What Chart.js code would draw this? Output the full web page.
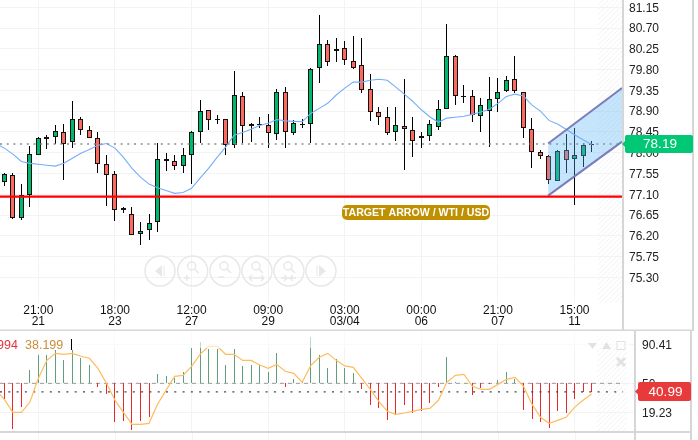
<!DOCTYPE html>
<html>
<head>
<meta charset="utf-8">
<title>WTI / USD</title>
<script src="https://cdn.jsdelivr.net/npm/chart.js@4/dist/chart.umd.min.js"></script>
<style>
    html, body { margin: 0; padding: 0; background: #fff; overflow: hidden; }
    canvas { position: absolute; left: 0; display: block; }
</style>
</head>
<body>
<canvas id="priceChart" width="698" height="331" style="top:0"></canvas>
<canvas id="oscChart" width="698" height="109" style="top:331px"></canvas>
<script>
// Candles
const opens = [77.37,77.51,76.58,77.08,77.94,78.29,78.33,78.44,78.23,78.72,78.49,78.31,77.75,77.53,76.80,76.67,76.23,76.32,76.49,77.86,77.81,77.71,77.94,78.44,78.92,78.72,78.72,78.16,79.22,78.57,78.62,78.59,78.40,79.31,78.42,78.62,78.62,79.83,80.35,80.20,80.26,79.98,79.89,79.37,78.88,78.77,78.44,78.57,78.49,78.31,78.36,78.55,78.94,80.09,79.22,79.22,78.79,78.90,79.16,79.33,79.59,79.31,78.51,78.01,77.92,77.38,78.05,77.86,77.92,78.18];
const highs = [77.55,77.57,77.32,78.15,78.33,78.38,78.59,78.62,79.11,78.77,78.57,78.44,77.94,77.60,76.82,76.82,76.49,76.67,78.20,77.99,77.94,78.10,78.46,79.14,78.92,78.81,78.72,79.76,79.31,78.64,78.77,78.83,79.37,79.42,78.70,78.72,79.83,80.99,80.44,80.48,80.41,80.52,80.48,79.70,78.98,78.98,78.98,79.59,78.77,78.44,78.70,79.14,80.78,80.11,79.46,79.35,79.18,79.63,79.61,79.66,80.09,79.31,78.75,78.05,77.94,78.05,78.40,78.53,78.20,78.25];
const lows = [77.29,76.56,76.54,76.83,77.94,78.07,78.18,77.42,78.10,78.38,78.31,77.55,76.85,76.53,76.70,76.21,76.01,76.10,76.29,77.61,77.63,77.55,77.33,78.20,78.49,78.62,77.94,78.10,78.20,78.24,78.53,78.11,78.28,78.10,78.38,78.53,78.20,79.50,79.87,79.97,79.91,79.81,79.29,78.68,78.61,78.38,78.26,77.63,77.91,78.10,78.26,78.49,78.94,79.03,79.07,78.66,78.44,78.12,78.88,79.31,79.29,78.31,77.66,77.86,77.32,77.38,77.55,76.86,77.70,78.01];
const closes = [77.53,76.58,77.08,77.97,78.31,78.33,78.46,78.18,78.72,78.49,78.31,77.75,77.51,76.77,76.77,76.21,76.30,76.47,77.86,77.81,77.71,77.94,78.44,78.90,78.70,78.72,78.16,79.24,78.57,78.62,78.62,78.42,79.31,78.44,78.64,78.62,79.81,80.35,79.96,80.24,80.00,79.83,79.35,78.88,78.77,78.42,78.59,78.51,78.25,78.36,78.62,78.94,80.09,79.22,79.22,78.81,79.03,79.16,79.31,79.57,79.33,78.53,78.01,77.92,77.40,78.03,77.84,77.94,78.16,78.18];

// Blue moving average, first value sits one bar left of the first candle
const maValues = [78.20,78.10,77.97,77.81,77.77,77.75,77.73,77.71,77.77,77.88,77.99,78.07,78.16,78.20,78.10,77.90,77.66,77.47,77.32,77.24,77.18,77.12,77.14,77.23,77.45,77.66,77.90,78.12,78.38,78.44,78.51,78.59,78.64,78.72,78.69,78.68,78.67,78.85,78.96,79.07,79.25,79.40,79.53,79.53,79.57,79.59,79.57,79.42,79.27,79.11,78.93,78.78,78.66,78.75,78.77,78.79,78.83,78.88,78.94,79.07,79.22,79.27,79.23,79.03,78.90,78.70,78.62,78.51,78.39,78.28,78.18];

const priceTicks = [81.15,80.70,80.25,79.80,79.35,78.90,78.45,78.00,77.55,77.10,76.65,76.20,75.75,75.30];
const timeTickBars = [4,13,22,31,40,49,58,67];
const timeLabels = ["21:00","18:00","12:00","09:00","03:00","00:00","21:00","15:00"];
const dateLabels = ["21","23","27","29","03/04","06","07","11"];

const lastPrice = 78.19;
const targetLevel = 77.05;
const channelBars = [63.9,72.58];
const channelUpper = [78.20,79.40];
const channelLower = [77.07,78.24];

// Oscillator panel
const histValues = [33.5,1.5,24.7,63.7,79.5,79.5,84.8,74.2,84.8,76.4,69.0,46.5,38.4,8.9,9.9,0.5,9.9,14.2,59.5,57.4,55.3,61.6,86.9,93.2,85.8,85.8,69.0,85.8,67.9,69.0,69.0,61.6,81.6,45.8,54.2,51.1,99.2,79.5,65.8,75.3,65.8,60.5,44.0,26.8,23.6,11.0,16.3,26.8,18.4,20.5,28.9,45.8,77.4,51.1,50.0,37.3,44.7,49.3,53.2,61.6,54.2,21.5,12.0,8.9,2.6,20.5,18.4,33.1,40.5,40.99];
const signalValues = [43.0,33.1,19.4,19.4,30.0,55.3,74.2,81.6,80.6,81.6,78.5,76.4,65.8,50.0,32.1,19.4,6.8,6.8,7.8,27.9,42.6,57.4,58.4,67.9,80.6,89.0,89.0,80.6,80.6,74.2,74.2,69.3,65.8,70.0,62.7,60.5,51.1,68.6,77.4,81.6,74.2,68.3,66.9,55.3,43.7,31.0,20.5,17.3,18.7,20.5,22.6,23.6,32.1,51.1,58.4,59.5,46.8,43.7,43.7,48.9,54.2,56.3,46.8,27.9,14.2,7.8,11.0,14.2,24.7,32.1,38.8];
const oscTicks = [90.41,50,19.23];
const oscMid = 50;
const oscLast = 40.99;

const FONT = '"Liberation Sans", Arial, sans-serif';
const GRID = "#f3f3f3";
const FRAME = "#d6d6d6";
const GREEN = "#00b86c";
const RED = "#fa6a5e";
const xMin = -0.509;

function bodyRange(i) {
    // dojis have no height of their own, keep them visible as a thin bar
    if (opens[i] === closes[i]) return [opens[i] - 0.012, opens[i] + 0.012];
    return [opens[i], closes[i]];
}

// bars land on whole pixels in the original, so snap ours the same way
const snapBars = {
    id: "snapBars",
    afterDatasetsUpdate(chart) {
        chart.getSortedVisibleDatasetMetas().forEach(meta => {
            if (meta.type !== "bar") return;
            meta.data.forEach(el => {
                el.x = Math.floor(el.x) + 0.5;
                el.y = Math.round(el.y);
                el.base = Math.round(el.base);
            });
        });
    }
};

// the axes would otherwise reserve room for half a label at each end
function fitAxis(axis, size) {
    if (axis.isHorizontal()) axis.height = size; else axis.width = size;
    axis.paddingTop = 0;
    axis.paddingBottom = 0;
    axis.paddingLeft = 0;
    axis.paddingRight = 0;
}

function drawHatch(ctx, x0, x1, y0, y1) {
    ctx.save();
    ctx.beginPath();
    ctx.rect(x0, y0, x1 - x0, y1 - y0);
    ctx.clip();
    ctx.strokeStyle = "#f3f3f3";
    ctx.lineWidth = 1;
    for (let x = x0 - (y1 - y0); x < x1; x += 5) {
        ctx.beginPath();
        ctx.moveTo(x, y1);
        ctx.lineTo(x + (y1 - y0), y0);
        ctx.stroke();
    }
    ctx.restore();
}

function drawTag(ctx, left, right, top, bottom, color, text) {
    ctx.fillStyle = color;
    ctx.beginPath();
    ctx.roundRect(left, top, right - left, bottom - top, 2);
    ctx.fill();
    const mid = (top + bottom) / 2;
    ctx.beginPath();
    ctx.moveTo(left + 1, mid - 4);
    ctx.lineTo(left - 3, mid);
    ctx.lineTo(left + 1, mid + 4);
    ctx.fill();
    ctx.fillStyle = "#fff";
    ctx.font = "13.5px " + FONT;
    ctx.textAlign = "center";
    ctx.textBaseline = "middle";
    ctx.fillText(text, (left + right) / 2 + 1, mid + 0.5);
}

function drawMagnifier(ctx, cx, cy) {
    ctx.beginPath();
    ctx.arc(cx - 1, cy - 5, 4, 0, Math.PI * 2);
    ctx.moveTo(cx + 2, cy - 2);
    ctx.lineTo(cx + 6, cy + 2);
    ctx.stroke();
}

function drawZoomButtons(ctx) {
    const centers = [160, 192.7, 225, 257, 289, 321];
    const y = 271;
    ctx.save();
    ctx.strokeStyle = "#e8e8e8";
    ctx.fillStyle = "#e8e8e8";
    ctx.lineWidth = 1.5;
    centers.forEach((cx, i) => {
        ctx.beginPath();
        ctx.arc(cx, y, 15, 0, Math.PI * 2);
        ctx.stroke();
        if (i === 0 || i === 5) {
            const dir = i === 0 ? -1 : 1;
            ctx.beginPath();
            ctx.moveTo(cx + dir * 5, y);
            ctx.lineTo(cx - dir * 2, y - 6);
            ctx.lineTo(cx - dir * 2, y + 6);
            ctx.fill();
            ctx.fillRect(cx - dir * 4 - 0.5, y - 5, 1, 10);
            return;
        }
        drawMagnifier(ctx, cx, y);
        ctx.beginPath();
        if (i === 1) {
            ctx.moveTo(cx - 9, y + 7); ctx.lineTo(cx - 3, y + 7);
            ctx.moveTo(cx - 6, y + 4); ctx.lineTo(cx - 6, y + 10);
        } else if (i === 2) {
            ctx.moveTo(cx - 7, y + 6); ctx.lineTo(cx - 1, y + 6);
        } else {
            const inner = i === 3 ? 0 : 6;
            ctx.moveTo(cx - 8, y + 7); ctx.lineTo(cx + 7, y + 7);
            ctx.moveTo(cx - 8 + inner, y + 7); ctx.lineTo(cx - 5, y + 4);
            ctx.moveTo(cx - 8 + inner, y + 7); ctx.lineTo(cx - 5, y + 10);
            ctx.moveTo(cx + 7 - inner, y + 7); ctx.lineTo(cx + 4, y + 4);
            ctx.moveTo(cx + 7 - inner, y + 7); ctx.lineTo(cx + 4, y + 10);
        }
        ctx.stroke();
    });
    ctx.restore();
}

const priceDecor = {
    id: "priceDecor",
    beforeDatasetsDraw(chart) {
        const a = chart.chartArea;
        drawHatch(chart.ctx, 598, a.right, a.top, a.bottom);
        drawZoomButtons(chart.ctx);
    },
    afterDraw(chart) {
        const ctx = chart.ctx;
        const a = chart.chartArea;
        // label sitting on the price area
        ctx.fillStyle = "#bf9000";
        ctx.beginPath();
        ctx.roundRect(342, 205, 148, 15, 5);
        ctx.fill();
        ctx.fillStyle = "#fff";
        ctx.font = "bold 10.6px " + FONT;
        ctx.textAlign = "center";
        ctx.textBaseline = "middle";
        ctx.fillText("TARGET ARROW / WTI / USD", 416, 213);

        ctx.fillStyle = FRAME;
        ctx.fillRect(a.right, 0, 2, 331);
        ctx.fillRect(692, 0, 2, 331);
        ctx.fillRect(0, 329.5, 694, 2);
        drawTag(ctx, 625, 693, 135, 153, "#00c875", lastPrice.toFixed(2));
    }
};

const oscDecor = {
    id: "oscDecor",
    beforeDatasetsDraw(chart) {
        const a = chart.chartArea;
        const ctx = chart.ctx;
        drawHatch(ctx, 597, 627, a.top, a.bottom);
        // grid runs on into the next panel
        ctx.fillStyle = GRID;
        timeTickBars.forEach(b => {
            ctx.fillRect(Math.round(chart.scales.x.getPixelForValue(b)), a.bottom, 1, 9);
        });
    },
    afterDraw(chart) {
        const ctx = chart.ctx;
        const a = chart.chartArea;
        // readout band washes out whatever runs under it
        ctx.fillStyle = "rgba(255,255,255,0.6)";
        ctx.fillRect(0, a.top, 630, 16);

        ctx.font = "12.5px " + FONT;
        ctx.textAlign = "left";
        ctx.textBaseline = "alphabetic";
        ctx.fillStyle = "#e8333c";
        ctx.fillText("994", -3, 18);
        ctx.fillStyle = "#c98e3c";
        ctx.fillText("38.199", 25, 18);
        ctx.fillStyle = "#000";
        ctx.fillRect(71, 8, 1, 11);

        // panel buttons
        ctx.fillStyle = "#e2e2e2";
        ctx.strokeStyle = "#e2e2e2";
        ctx.beginPath();
        ctx.moveTo(588, 12); ctx.lineTo(597, 12); ctx.lineTo(592.5, 18);
        ctx.fill();
        ctx.beginPath();
        ctx.moveTo(602, 18); ctx.lineTo(611, 18); ctx.lineTo(606.5, 11);
        ctx.fill();
        ctx.lineWidth = 1;
        ctx.strokeRect(617, 10.5, 8, 8);
        ctx.lineWidth = 3;
        ctx.beginPath();
        ctx.moveTo(617, 27); ctx.lineTo(625, 35);
        ctx.moveTo(625, 27); ctx.lineTo(617, 35);
        ctx.stroke();

        ctx.fillStyle = FRAME;
        ctx.fillRect(0, a.bottom, 692, 2);
        ctx.fillRect(a.right - 1, 0, 2, 109);
        ctx.fillRect(690, 0, 2, 109);
        drawTag(ctx, 638, 691, 51, 70, "#e83a3a", oscLast.toFixed(2));
    }
};

const candleWicks = highs.map((h, i) => ({ x: i, y: [lows[i], h] }));
const candleBodies = opens.map((o, i) => ({ x: i, y: bodyRange(i) }));
const maLine = maValues.map((v, i) => ({ x: i - 1, y: v }));
const priceLine = [{ x: xMin, y: lastPrice }, { x: channelBars[1], y: lastPrice }];
const targetLine = [{ x: xMin, y: targetLevel }, { x: channelBars[1], y: targetLevel }];
const upperLine = channelBars.map((b, i) => ({ x: b, y: channelUpper[i] }));
const lowerLine = channelBars.map((b, i) => ({ x: b, y: channelLower[i] }));

new Chart(document.getElementById("priceChart").getContext("2d"), {
    type: "bar",
    plugins: [snapBars, priceDecor],
    data: {
        datasets: [
            { data: candleWicks, backgroundColor: "#000", barThickness: 1, maxBarThickness: 1, inflateAmount: 0, grouped: false, order: 6 },
            {
                data: candleBodies,
                backgroundColor: ctx => closes[ctx.dataIndex] > opens[ctx.dataIndex] ? GREEN
                    : closes[ctx.dataIndex] < opens[ctx.dataIndex] ? RED : "#000",
                borderColor: "#111",
                borderWidth: 1,
                borderSkipped: false,
                barThickness: 5,
                maxBarThickness: 5,
                inflateAmount: 0,
                grouped: false,
                order: 5
            },
            { type: "line", data: maLine, borderColor: "#74aefb", borderWidth: 1.1, pointRadius: 0, order: 4 },
            { type: "line", data: priceLine, borderColor: "#8c8c8c", borderWidth: 1.5, borderDash: [2, 4.7], pointRadius: 0, order: 3 },
            { type: "line", data: upperLine, borderColor: "#7b7dbb", borderWidth: 2, pointRadius: 0, order: 2 },
            { type: "line", data: lowerLine, borderColor: "#7b7dbb", borderWidth: 2, pointRadius: 0, fill: { target: "-1" }, backgroundColor: "rgba(90,180,245,0.35)", order: 2 },
            { type: "line", data: targetLine, borderColor: "#ff0000", borderWidth: 2.4, pointRadius: 0, order: 1 }
        ]
    },
    options: {
        responsive: false,
        animation: false,
        events: [],
        layout: { padding: 0 },
        plugins: { legend: { display: false }, tooltip: { enabled: false } },
        scales: {
            x: {
                type: "linear",
                offset: false,
                min: xMin,
                max: 72.58,
                grid: { color: GRID, offset: false, drawTicks: false },
                border: { display: false },
                afterBuildTicks: axis => { axis.ticks = timeTickBars.map(b => ({ value: b })); },
                afterFit: axis => fitAxis(axis, 28),
                ticks: {
                    autoSkip: false,
                    maxRotation: 0,
                    padding: 3,
                    color: "#111",
                    font: { family: FONT, size: 12, lineHeight: 0.85 },
                    callback: (value, i) => [timeLabels[i], dateLabels[i]]
                }
            },
            y: {
                position: "right",
                min: 74.745,
                max: 81.308,
                grid: { color: GRID, drawTicks: false },
                border: { display: false },
                afterBuildTicks: axis => { axis.ticks = priceTicks.map(v => ({ value: v })); },
                afterFit: axis => fitAxis(axis, 76),
                ticks: {
                    autoSkip: false,
                    padding: 7,
                    labelOffset: 1,
                    color: "#222",
                    font: { family: FONT, size: 12 },
                    callback: value => value.toFixed(2)
                }
            }
        }
    }
});

const histBars = histValues.map((v, i) => ({ x: i, y: [oscMid, v] }));
const signalLine = signalValues.map((v, i) => ({ x: i - 1, y: v }));
const midLine = [{ x: xMin, y: oscMid }, { x: 72.7, y: oscMid }];
const lastLine = [{ x: xMin, y: oscLast }, { x: 72.7, y: oscLast }];

new Chart(document.getElementById("oscChart").getContext("2d"), {
    type: "bar",
    plugins: [snapBars, oscDecor],
    data: {
        datasets: [
            {
                data: histBars,
                backgroundColor: ctx => histValues[ctx.dataIndex] >= oscMid ? "#5f9f7b" : "#e8282d",
                barThickness: 1,
                maxBarThickness: 1,
                inflateAmount: 0,
                grouped: false,
                order: 4
            },
            { type: "line", data: midLine, borderColor: "#9a9a9a", borderWidth: 1, borderDash: [4, 4], pointRadius: 0, order: 5 },
            { type: "line", data: lastLine, borderColor: "#444", borderWidth: 1.2, borderDash: [2, 6.3], pointRadius: 0, order: 3 },
            { type: "line", data: signalLine, borderColor: "#ffbb5c", borderWidth: 1.2, pointRadius: 0, order: 1 }
        ]
    },
    options: {
        responsive: false,
        animation: false,
        events: [],
        layout: { padding: { top: 1 } },
        plugins: { legend: { display: false }, tooltip: { enabled: false } },
        scales: {
            x: {
                type: "linear",
                offset: false,
                min: xMin,
                max: 74.1,
                grid: { color: GRID, offset: false, drawTicks: false },
                border: { display: false },
                afterBuildTicks: axis => { axis.ticks = timeTickBars.map(b => ({ value: b })); },
                afterFit: axis => fitAxis(axis, 9),
                ticks: { display: false }
            },
            y: {
                position: "right",
                min: -0.25,
                max: 104.1,
                grid: { color: GRID, drawTicks: false },
                border: { display: false },
                afterBuildTicks: axis => { axis.ticks = oscTicks.map(v => ({ value: v })); },
                afterFit: axis => fitAxis(axis, 63),
                ticks: {
                    autoSkip: false,
                    padding: 7,
                    labelOffset: 1,
                    color: "#222",
                    font: { family: FONT, size: 12 },
                    callback: value => value === oscMid ? "50" : value.toFixed(2)
                }
            }
        }
    }
});
</script>
</body>
</html>
